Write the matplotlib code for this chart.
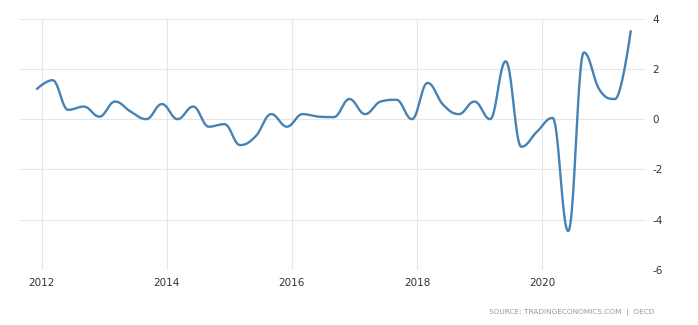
import numpy as np
import matplotlib.pyplot as plt

plt.rcParams['axes.unicode_minus'] = False

# quarterly values, 2011 Q4 .. 2021 Q2
quarters = np.arange(39)
values = [1.2, 1.55, 0.37, 0.5, 0.1, 0.7, 0.3, 0.0, 0.6, 0.0,
          0.5, -0.3, -0.2, -1.03, -0.68, 0.2, -0.3, 0.2, 0.1, 0.08,
          0.8, 0.2, 0.7, 0.77, 0.0, 1.44, 0.57, 0.2, 0.7, 0.0,
          2.3, -1.1, -0.5, 0.05, -4.45, 2.65, 1.17, 0.8, 3.5]
x_ticks = [2012, 2014, 2016, 2018, 2020]
y_ticks = [-6, -4, -2, 0, 2, 4]
source = 'SOURCE: TRADINGECONOMICS.COM  |  OECD'

t = 2011.92 + 0.25 * quarters
v = np.array(values)


def controls(x, y):
    # spline control points like the web chart does it (smoothing 1.5)
    n = len(x)
    lc = [(x[i], y[i]) for i in range(n)]
    rc = [(x[i], y[i]) for i in range(n)]
    for i in range(1, n - 1):
        px, py, cx, cy, nx, ny = x[i - 1], y[i - 1], x[i], y[i], x[i + 1], y[i + 1]
        lcx = (1.5 * cx + px) / 2.5
        lcy = (1.5 * cy + py) / 2.5
        rcx = (1.5 * cx + nx) / 2.5
        rcy = (1.5 * cy + ny) / 2.5
        corr = (rcy - lcy) * (rcx - cx) / (rcx - lcx) + cy - rcy
        lcy += corr
        rcy += corr
        if lcy > py and lcy > cy:
            lcy = max(py, cy)
            rcy = 2 * cy - lcy
        elif lcy < py and lcy < cy:
            lcy = min(py, cy)
            rcy = 2 * cy - lcy
        if rcy > ny and rcy > cy:
            rcy = max(ny, cy)
            lcy = 2 * cy - rcy
        elif rcy < ny and rcy < cy:
            rcy = min(ny, cy)
            lcy = 2 * cy - rcy
        lc[i] = (lcx, lcy)
        rc[i] = (rcx, rcy)
    return lc, rc


def smooth(x, y, n=24):
    lc, rc = controls(x, y)
    xs, ys = [], []
    s = np.linspace(0, 1, n, endpoint=False)
    for i in range(len(x) - 1):
        p0 = (x[i], y[i])
        p1 = rc[i]
        p2 = lc[i + 1]
        p3 = (x[i + 1], y[i + 1])
        for k, out in ((0, xs), (1, ys)):
            out.extend((1 - s) ** 3 * p0[k] + 3 * (1 - s) ** 2 * s * p1[k]
                       + 3 * (1 - s) * s ** 2 * p2[k] + s ** 3 * p3[k])
    xs.append(x[-1])
    ys.append(y[-1])
    return np.array(xs), np.array(ys)


fig = plt.figure(figsize=(6.98, 3.25), dpi=100)
ax = fig.add_axes([0.0287, 0.169, 0.8955, 0.774])

sx, sy = smooth(t, v)
ax.plot(sx, sy, color='#4682b4', lw=1.7, solid_capstyle='round', zorder=3)

ax.set_xlim(2011.65, 2021.65)
ax.set_ylim(-6, 4)
ax.set_xticks(x_ticks)
ax.set_yticks(y_ticks)
ax.set_xticklabels([str(x) for x in x_ticks])
ax.grid(True, color='#e6e6e6', lw=0.8)
ax.set_axisbelow(True)
for sp in ax.spines.values():
    sp.set_visible(False)
ax.yaxis.tick_right()
ax.tick_params(axis='both', length=0, labelsize=7.5, colors='#333333')
ax.tick_params(axis='x', pad=6)
ax.tick_params(axis='y', pad=5)

fig.text(0.938, 0.04, source, ha='right', va='center', fontsize=5.3, color='#999999')

fig.savefig('out.png', dpi=100)
